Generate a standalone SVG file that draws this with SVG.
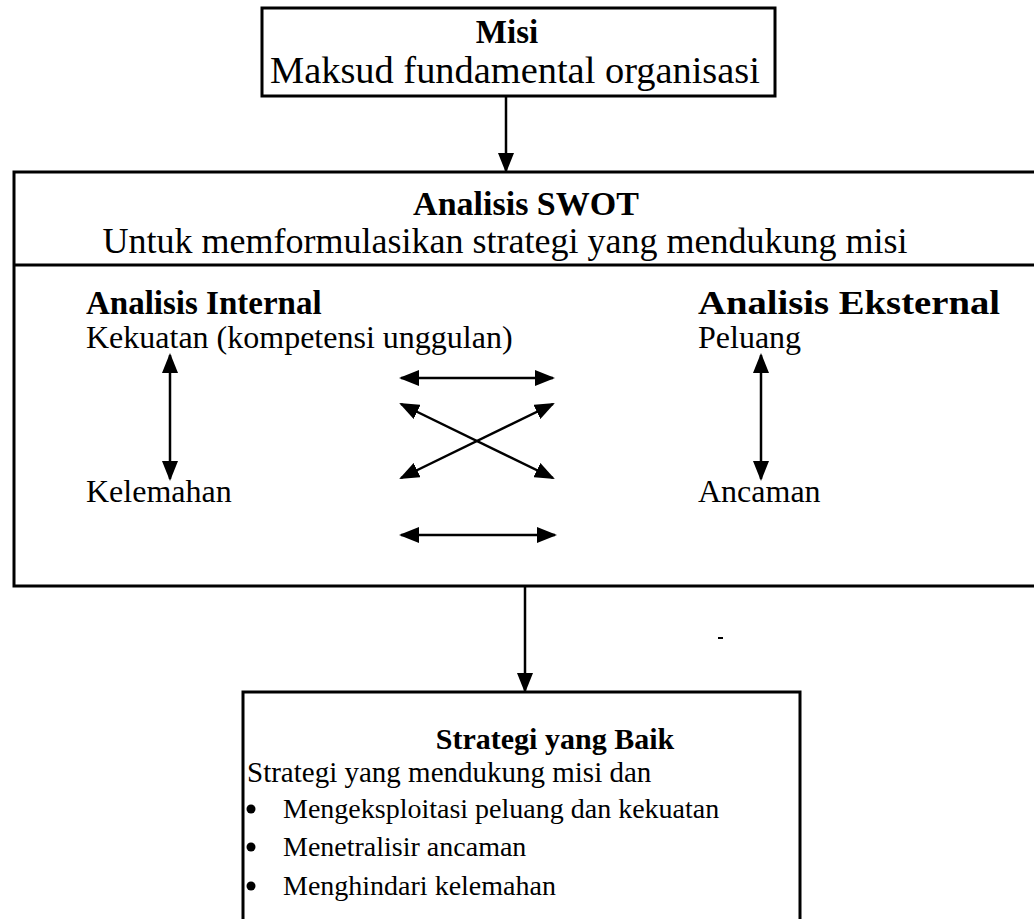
<svg xmlns="http://www.w3.org/2000/svg" width="1034" height="919" viewBox="0 0 1034 919">
<style>
text{font-family:"Liberation Serif","Times New Roman",serif;fill:#000}
.b{font-weight:bold}
.box{fill:none;stroke:#000;stroke-width:3}
.c{fill:none;stroke:#000;stroke-width:2.5}
</style>
<defs>
<marker id="ah" viewBox="0 0 20 16" refX="18" refY="8" markerWidth="20" markerHeight="16" markerUnits="userSpaceOnUse" orient="auto-start-reverse">
<path d="M0,0 L20,8 L0,16 Z" fill="#000"/>
</marker>
</defs>
<rect width="1034" height="919" fill="#fff"/>
<g id="misi">
<rect class="box" x="262" y="8" width="513" height="88"/>
<text class="b" x="507" y="43" font-size="33" text-anchor="middle">Misi</text>
<text x="515" y="83" font-size="37" text-anchor="middle" textLength="490" lengthAdjust="spacingAndGlyphs">Maksud fundamental organisasi</text>
</g>
<g id="swot">
<path class="box" d="M1036,172 H14 V586 H1036"/>
<line class="box" x1="14" y1="265" x2="1036" y2="265"/>
<text class="b" x="526" y="215" font-size="34" text-anchor="middle">Analisis SWOT</text>
<text x="505" y="253" font-size="36" text-anchor="middle">Untuk memformulasikan strategi yang mendukung misi</text>
</g>
<g id="internal">
<text class="b" x="86" y="314" font-size="33">Analisis Internal</text>
<text x="86" y="348" font-size="32">Kekuatan (kompetensi unggulan)</text>
<text x="86" y="502" font-size="32">Kelemahan</text>
</g>
<g id="eksternal">
<text class="b" x="698" y="314" font-size="34" textLength="302" lengthAdjust="spacingAndGlyphs">Analisis Eksternal</text>
<text x="698" y="348" font-size="32">Peluang</text>
<text x="698" y="502" font-size="32">Ancaman</text>
</g>
<g id="strategi">
<path class="box" d="M243,921 V692 H800 V921"/>
<text class="b" x="555" y="749" font-size="30" text-anchor="middle">Strategi yang Baik</text>
<text x="247" y="782" font-size="29">Strategi yang mendukung misi dan</text>
<circle cx="251" cy="809" r="4.5"/>
<text x="283" y="818" font-size="28">Mengeksploitasi peluang dan kekuatan</text>
<circle cx="251" cy="847" r="4.5"/>
<text x="283" y="856" font-size="28">Menetralisir ancaman</text>
<circle cx="251" cy="886" r="4.5"/>
<text x="283" y="895" font-size="28">Menghindari kelemahan</text>
</g>
<g id="connectors">
<line class="c" x1="506" y1="96" x2="506" y2="171" marker-end="url(#ah)"/>
<line class="c" x1="525" y1="586" x2="525" y2="691" marker-end="url(#ah)"/>
<line class="c" x1="170" y1="355" x2="170" y2="479" marker-start="url(#ah)" marker-end="url(#ah)"/>
<line class="c" x1="761" y1="355" x2="761" y2="479" marker-start="url(#ah)" marker-end="url(#ah)"/>
<line class="c" x1="401" y1="378" x2="553" y2="378" marker-start="url(#ah)" marker-end="url(#ah)"/>
<line class="c" x1="401" y1="535" x2="555" y2="535" marker-start="url(#ah)" marker-end="url(#ah)"/>
<line class="c" x1="401" y1="404" x2="553" y2="478" marker-start="url(#ah)" marker-end="url(#ah)"/>
<line class="c" x1="553" y1="404" x2="401" y2="478" marker-start="url(#ah)" marker-end="url(#ah)"/>
</g>
<rect x="718" y="637" width="5" height="2" fill="#000"/>
</svg>
